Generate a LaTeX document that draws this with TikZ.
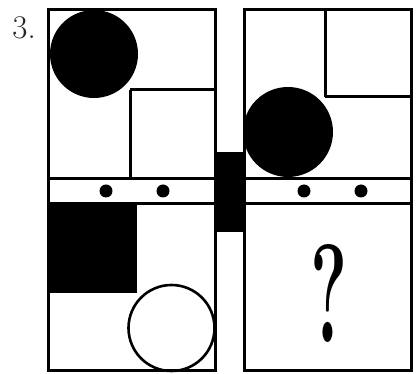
\documentclass[tikz,border=0pt]{standalone}
\usepackage{tikz}

\begin{document}
\begin{tikzpicture}[x=1pt, y=-1pt, line width=3pt,
    blob/.style={fill=black, draw=none},
    ring/.style={draw=black, line width=2.6pt}]
    \useasboundingbox (0,0) rectangle (416,374);
    % number
    \node[anchor=north west, inner sep=0pt, font=\fontsize{33}{33}\selectfont, text=black!85] (num) at (11,15) {3.};
    % left panel
    \draw (48.5,9.5) rectangle (215.5,370.5);
    \draw (48.5,178.5) -- (215.5,178.5);
    \draw (48.5,203.5) -- (215.5,203.5);
    \draw (130,90) -- (215.5,90);
    \draw (130,90) -- (130,178.5);
    \fill[blob] (94,54) circle (44);
    \fill[blob] (48.5,203.5) rectangle (137,293);
    \draw[ring] (171.5,328) circle (43);
    \fill[blob] (106,191) circle (6.5);
    \fill[blob] (163,191) circle (6.5);
    % middle bar
    \fill[blob] (217,152) rectangle (243,232);
    % right panel
    \draw (244.5,9.5) rectangle (411.5,370.5);
    \draw (244.5,178.5) -- (411.5,178.5);
    \draw (244.5,203.5) -- (411.5,203.5);
    \draw (325,9.5) -- (325,97);
    \draw (325,97) -- (411.5,97);
    \fill[blob] (288,132) circle (45);
    \fill[blob] (304,191) circle (6.5);
    \fill[blob] (361,191) circle (6.5);
    \node[inner sep=0pt, xscale=0.5, font=\fontsize{140}{140}\selectfont\bfseries] (ask) at (329,294) {?};
\end{tikzpicture}
\end{document}
